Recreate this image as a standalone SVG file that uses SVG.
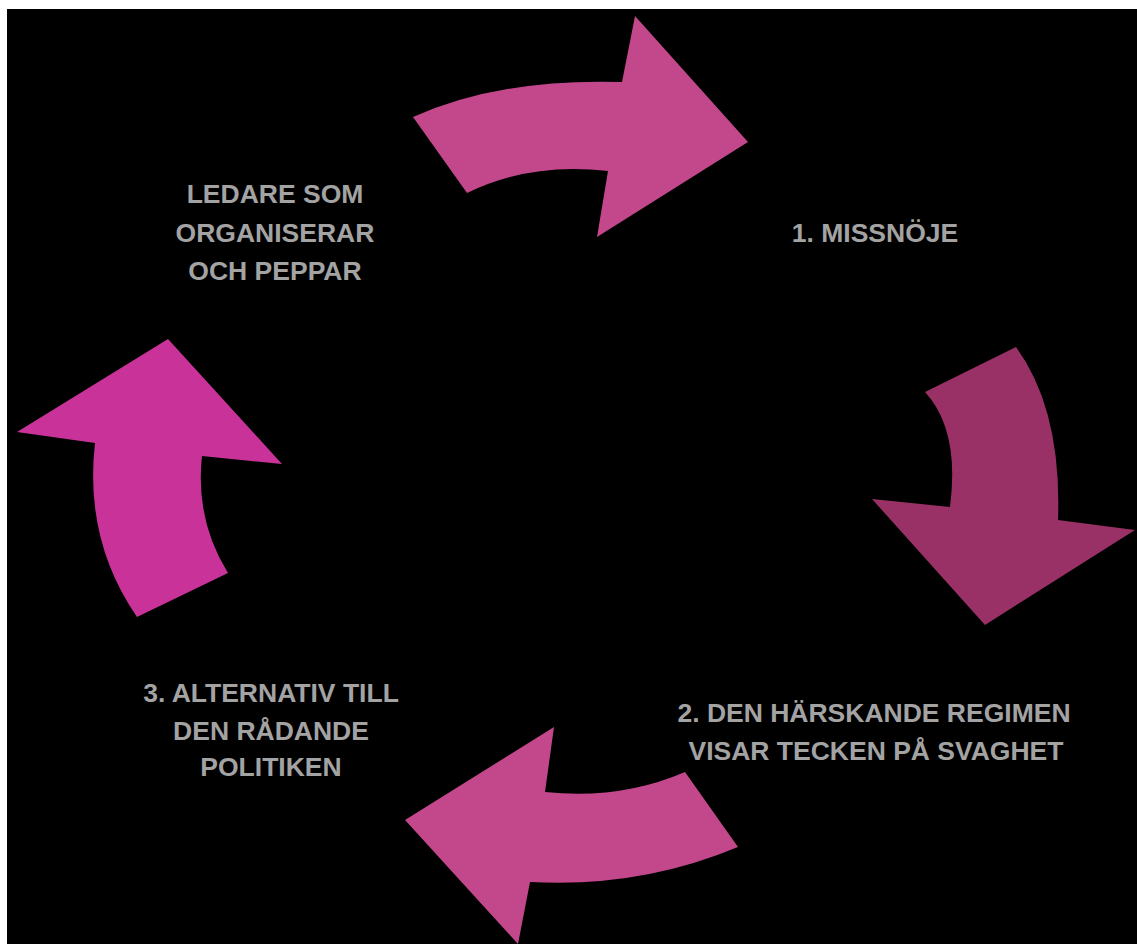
<svg xmlns="http://www.w3.org/2000/svg" width="1137" height="944" viewBox="0 0 1137 944">
<style>
.lbl{font-family:"Liberation Sans",Arial,sans-serif;font-weight:bold;font-size:26.5px;fill:#A3A3A3;text-anchor:middle}
.pink{fill:#C2478B}
.dark{fill:#9A3166}
.mag{fill:#C93399}
</style>
<rect width="1137" height="944" fill="#ffffff"/>
<rect x="7" y="9" width="1130" height="935" fill="#000000"/>
<g id="connectors">
<path id="arrow-top" class="pink" d="M413,117 Q500,78 622,82 L635,16 L748,142 L597,237 L608,171 Q530,162 467,193 Z"/>
<path id="arrow-right" class="dark" d="M1016,347 Q1062,410 1058,520 L1135,530 L985,625 L872,499 L950,507 Q960,430 925,392 Z"/>
<path id="arrow-bottom" class="pink" d="M685,772 Q620,800 545,792 L554,727 L405,820 L518,944 L530,882 Q640,888 738,847 Z"/>
<path id="arrow-left" class="mag" d="M137,617 Q84,540 95,443 L17,432 L168,339 L282,464 L202,456 Q195,520 228,573 Z"/>
</g>
<g id="node-leaders">
<text class="lbl" x="275" y="203">LEDARE SOM</text>
<text class="lbl" x="275" y="242">ORGANISERAR</text>
<text class="lbl" x="275" y="280">OCH PEPPAR</text>
</g>
<g id="node-1">
<text class="lbl" x="875" y="242">1. MISSNÖJE</text>
</g>
<g id="node-2">
<text class="lbl" x="874" y="722">2. DEN HÄRSKANDE REGIMEN</text>
<text class="lbl" x="876" y="760">VISAR TECKEN PÅ SVAGHET</text>
</g>
<g id="node-3">
<text class="lbl" x="271" y="702">3. ALTERNATIV TILL</text>
<text class="lbl" x="271" y="740">DEN RÅDANDE</text>
<text class="lbl" x="271" y="776">POLITIKEN</text>
</g>
</svg>
